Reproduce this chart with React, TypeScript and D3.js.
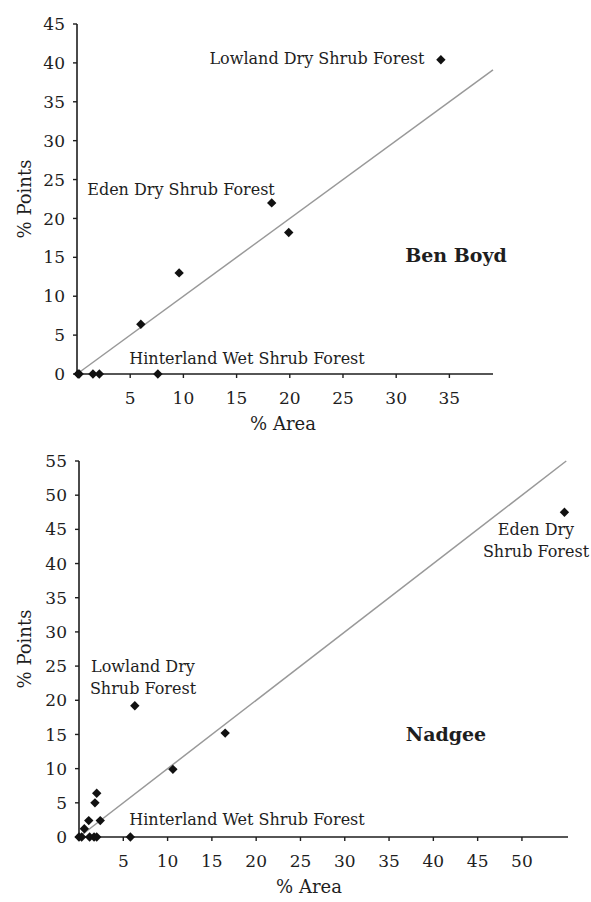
import { scaleLinear, symbol, symbolSquare } from "d3";

// Ben Boyd: % of area vs % of points per vegetation class
const benBoydArea = [0.1, 0.2, 1.5, 2.1, 7.6, 6.0, 9.6, 18.3, 19.9, 34.2];
const benBoydPoints = [0, 0, 0, 0, 0, 6.4, 13.0, 22.0, 18.2, 40.4];
const benBoydXTicks = [5, 10, 15, 20, 25, 30, 35];
const benBoydYTicks = [0, 5, 10, 15, 20, 25, 30, 35, 40, 45];

// Nadgee
const nadgeeArea = [0.0, 0.3, 1.2, 1.7, 2.0, 5.8, 0.6, 1.1, 2.4, 1.8, 2.0, 10.6, 16.5, 6.3, 54.8];
const nadgeePoints = [0, 0, 0, 0, 0, 0, 1.2, 2.4, 2.4, 5.0, 6.4, 9.9, 15.2, 19.2, 47.5];
const nadgeeXTicks = [5, 10, 15, 20, 25, 30, 35, 40, 45, 50];
const nadgeeYTicks = [0, 5, 10, 15, 20, 25, 30, 35, 40, 45, 50, 55];

const font = "'DejaVu Serif', serif";
const ink = "#1e1e1e";

type Note = { lines: string[]; x: number; y: number; bold?: boolean };

type PanelProps = {
  area: number[];
  points: number[];
  xTicks: number[];
  yTicks: number[];
  xMax: number;
  yMax: number;
  left: number;
  right: number;
  top: number;
  bottom: number;
  xTitleX: number;
  notes: Note[];
};

const diamond = symbol().type(symbolSquare).size(44)() ?? "";

function Panel(props: PanelProps) {
  const { area, points, xTicks, yTicks, xMax, yMax, left, right, top, bottom, xTitleX, notes } = props;
  const x = scaleLinear().domain([0, xMax]).range([left, right]);
  const y = scaleLinear().domain([0, yMax]).range([bottom, top]);
  const lineEnd = Math.min(xMax, yMax);

  return (
    <g fontFamily={font} fill={ink}>
      {/* 1:1 reference line */}
      <line
        x1={x(0)}
        y1={y(0)}
        x2={x(lineEnd)}
        y2={y(lineEnd)}
        stroke="#999"
        strokeWidth={1.5}
      />

      {/* axes */}
      <line x1={left} x2={left} y1={y(0)} y2={y(yMax)} stroke={ink} strokeWidth={1.6} />
      <line x1={left} x2={x(xMax)} y1={bottom} y2={bottom} stroke={ink} strokeWidth={1.6} />

      {yTicks.map((t) => (
        <g key={`y${t}`}>
          <line x1={left - 4} x2={left} y1={y(t)} y2={y(t)} stroke={ink} strokeWidth={1.4} />
          <text x={left - 12} y={y(t)} dy="0.36em" textAnchor="end" fontSize={17}>
            {t}
          </text>
        </g>
      ))}
      {xTicks.map((t) => (
        <g key={`x${t}`}>
          <line x1={x(t)} x2={x(t)} y1={bottom} y2={bottom + 4} stroke={ink} strokeWidth={1.4} />
          <text x={x(t)} y={bottom + 30} textAnchor="middle" fontSize={17}>
            {t}
          </text>
        </g>
      ))}

      <text
        transform={`translate(31, ${(top + bottom) / 2}) rotate(-90)`}
        textAnchor="middle"
        fontSize={18}
      >
        % Points
      </text>
      <text x={xTitleX} y={bottom + 56} textAnchor="middle" fontSize={18}>
        % Area
      </text>

      {area.map((a, i) => (
        <path
          key={i}
          d={diamond}
          transform={`translate(${x(a)}, ${y(points[i])}) rotate(45)`}
          fill="#111"
        />
      ))}

      {notes.map((n, i) => (
        <text
          key={i}
          x={n.x}
          y={n.y}
          textAnchor="middle"
          fontSize={n.bold ? 19 : 16}
          fontWeight={n.bold ? "bold" : "normal"}
        >
          {n.lines.map((l, j) => (
            <tspan key={j} x={n.x} dy={j === 0 ? 0 : 22}>
              {l}
            </tspan>
          ))}
        </text>
      ))}
    </g>
  );
}

export default function App() {
  return (
    <svg
      width={591}
      height={902}
      viewBox="0 0 591 902"
      style={{ position: "absolute", left: 0, top: 0, background: "#fff" }}
    >
      <rect width={591} height={902} fill="#fff" />
      <Panel
        area={benBoydArea}
        points={benBoydPoints}
        xTicks={benBoydXTicks}
        yTicks={benBoydYTicks}
        xMax={39.1}
        yMax={45}
        left={77}
        right={493}
        top={24}
        bottom={374}
        xTitleX={283}
        notes={[
          { lines: ["Lowland Dry Shrub Forest"], x: 317, y: 64 },
          { lines: ["Eden Dry Shrub Forest"], x: 181, y: 195 },
          { lines: ["Hinterland Wet Shrub Forest"], x: 247, y: 364 },
          { lines: ["Ben Boyd"], x: 456, y: 262, bold: true },
        ]}
      />
      <Panel
        area={nadgeeArea}
        points={nadgeePoints}
        xTicks={nadgeeXTicks}
        yTicks={nadgeeYTicks}
        xMax={55.2}
        yMax={55}
        left={79}
        right={568}
        top={461}
        bottom={837}
        xTitleX={309}
        notes={[
          { lines: ["Lowland Dry", "Shrub Forest"], x: 143, y: 672 },
          { lines: ["Eden Dry", "Shrub Forest"], x: 536, y: 535 },
          { lines: ["Hinterland Wet Shrub Forest"], x: 247, y: 825 },
          { lines: ["Nadgee"], x: 446, y: 741, bold: true },
        ]}
      />
    </svg>
  );
}
